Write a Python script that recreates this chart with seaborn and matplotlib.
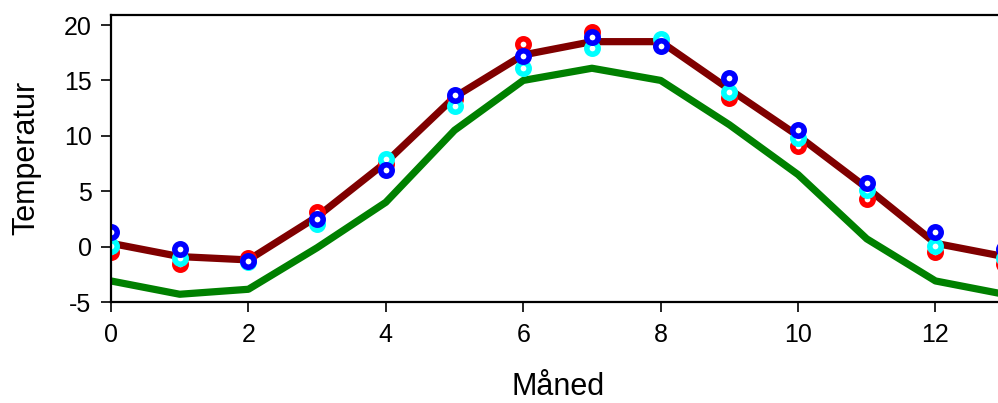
import numpy as np
import pandas as pd
import matplotlib
matplotlib.use('Agg')
import matplotlib.pyplot as plt
import seaborn as sns

# dados (mes 0..13, 12 e 13 repetem 0 e 1)
maned = [0, 1, 2, 3, 4, 5, 6, 7, 8, 9, 10, 11, 12, 13]
middel = [0.3, -0.9, -1.2, 2.7, 7.6, 13.5, 17.3, 18.5, 18.5, 14.2, 10.0, 5.3, 0.3, -0.9]
gronn = [-3.1, -4.3, -3.85, -0.1, 4.0, 10.5, 15.0, 16.1, 15.0, 11.0, 6.5, 0.7, -3.1, -4.3]
rod = [-0.5, -1.6, -1.0, 3.1, 7.5, 13.3, 18.3, 19.4, 18.3, 13.4, 9.1, 4.3, -0.5, -1.6]
cyan = [0.1, -1.0, -1.4, 2.0, 7.9, 12.7, 16.1, 17.9, 18.7, 14.0, 9.8, 5.1, 0.1, -1.0]
bla = [1.3, -0.2, -1.3, 2.5, 6.9, 13.7, 17.2, 18.9, 18.1, 15.2, 10.5, 5.7, 1.3, -0.2]

df = pd.DataFrame({'Måned': maned, 'middel': middel, 'gronn': gronn,
                   'rod': rod, 'cyan': cyan, 'bla': bla})

sns.set_style('white')
plt.rcParams['font.family'] = ['Liberation Sans', 'DejaVu Sans']
plt.rcParams['axes.unicode_minus'] = False
plt.rcParams['text.color'] = 'black'
plt.rcParams['axes.labelcolor'] = 'black'

fig = plt.figure(figsize=(9.98, 4.03), dpi=100)
ax = fig.add_axes([0.1112, 0.2506, 0.895, 0.7134])

# linjene
sns.lineplot(data=df, x='Måned', y='gronn', color='#008000', linewidth=5.2, ax=ax)
sns.lineplot(data=df, x='Måned', y='middel', color='#800000', linewidth=5.2, ax=ax)

# punktene (hule sirkler)
for kol, farge in [('rod', '#ff0000'), ('cyan', '#00ffff'), ('bla', '#0000ff')]:
    sns.lineplot(data=df, x='Måned', y=kol, ax=ax, linestyle='', marker='o',
                 markersize=8.2, markerfacecolor='white', markeredgecolor=farge,
                 markeredgewidth=4.0)

ax.set_xlim(0, 13)
ax.set_ylim(-5, 20.95)
ax.set_xticks([0, 2, 4, 6, 8, 10, 12])
ax.set_yticks([-5, 0, 5, 10, 15, 20])
ax.set_xlabel('Måned', fontsize=22, labelpad=18)
ax.set_ylabel('Temperatur', fontsize=22, labelpad=16)

for s in ['left', 'bottom', 'top']:
    ax.spines[s].set_visible(True)
    ax.spines[s].set_color('black')
    ax.spines[s].set_linewidth(1.6)
ax.spines['right'].set_visible(False)
ax.tick_params(axis='both', direction='out', length=7, width=1.2,
               colors='black', labelsize=18, left=True, bottom=True)
ax.tick_params(axis='y', pad=7)
ax.tick_params(axis='x', pad=8)

plt.savefig('out.png', dpi=100)
